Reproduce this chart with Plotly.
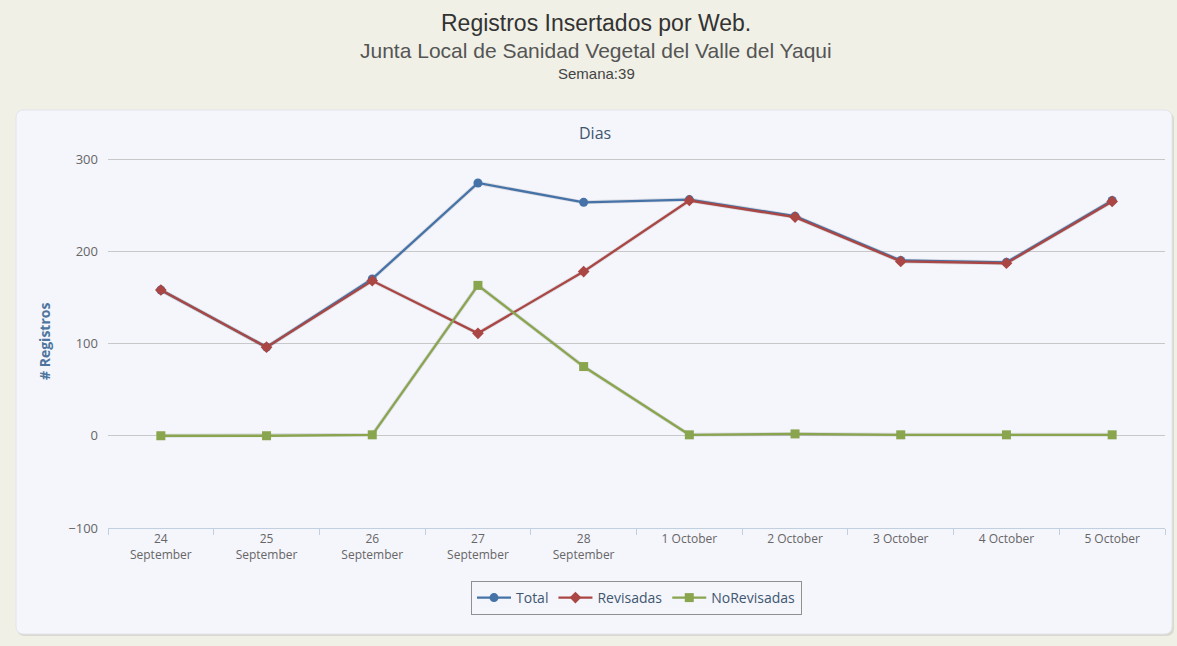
import plotly.graph_objects as go

categories = ["24<br>September", "25<br>September", "26<br>September", "27<br>September",
              "28<br>September", "1 October", "2 October", "3 October", "4 October", "5 October"]
total = [158, 96, 170, 274, 253, 256, 238, 190, 188, 255]
revisadas = [158, 96, 168, 111, 178, 255, 237, 189, 187, 254]
no_revisadas = [0, 0, 1, 163, 75, 1, 2, 1, 1, 1]

W, H = 1177, 646
L, R, T, B = 108, 12, 156, 118
PW, PH = W - L - R, H - T - B
Y_MIN, Y_MAX = -100, 300 + 3 / 0.9225


def px(x):
    return (x - L) / PW


def py(y):
    return (H - B - y) / PH


def rounded(x0, y0, x1, y1, r):
    a0, a1 = px(x0), px(x1)
    b0, b1 = py(y0), py(y1)  # b0 top, b1 bottom
    rx, ry = r / PW, r / PH
    return (f"M{a0+rx},{b0} L{a1-rx},{b0} Q{a1},{b0} {a1},{b0-ry} "
            f"L{a1},{b1+ry} Q{a1},{b1} {a1-rx},{b1} L{a0+rx},{b1} "
            f"Q{a0},{b1} {a0},{b1+ry} L{a0},{b0-ry} Q{a0},{b0} {a0+rx},{b0} Z")


fig = go.Figure()
series = [("Total", total, "#4572A7", "circle"),
          ("Revisadas", revisadas, "#AA4643", "diamond"),
          ("NoRevisadas", no_revisadas, "#89A54E", "square")]
for name, vals, col, sym in series:
    fig.add_trace(go.Scatter(
        x=categories, y=vals, mode="lines", showlegend=False, hoverinfo="skip",
        line=dict(color="rgba(0,0,0,0.10)", width=4),
    ))
for name, vals, col, sym in series:
    fig.add_trace(go.Scatter(
        x=categories, y=vals, name=name, mode="lines+markers",
        line=dict(color=col, width=2.3),
        marker=dict(color=col, symbol=sym, size=9),
    ))

shapes = [
    dict(type="path", xref="paper", yref="paper", path=rounded(17, 112, 1174, 636, 8),
         fillcolor="#d9d9d0", line=dict(width=0), layer="below"),
    dict(type="path", xref="paper", yref="paper", path=rounded(16, 110, 1172, 634, 8),
         fillcolor="#f5f5fc", line=dict(color="#e4e4ec", width=1), layer="below"),
]


def ann(text, x, y, size, color, family="Liberation Sans, Arial", angle=0):
    return dict(text=text, x=px(x), y=py(y), xref="paper", yref="paper",
                xanchor="center", yanchor="middle", showarrow=False, textangle=angle,
                font=dict(family=family, size=size, color=color))


annotations = [
    ann("Registros Insertados por Web.", 596, 23, 23, "#333333"),
    ann("Junta Local de Sanidad Vegetal del Valle del Yaqui", 596, 50, 21, "#555555"),
    ann("Semana:39", 596, 74, 15, "#444444"),
    ann("Dias", 595, 133, 16, "#3E576F", family="Open Sans"),
    ann("<b># Registros</b>", 44, 342, 14, "#4D759E", family="Open Sans", angle=-90),
]

fig.update_layout(
    width=W, height=H,
    margin=dict(l=L, r=R, t=T, b=B),
    paper_bgcolor="#f0f0e6",
    plot_bgcolor="rgba(0,0,0,0)",
    shapes=shapes,
    annotations=annotations,
    font=dict(family="Open Sans", color="#666666", size=12),
    xaxis=dict(
        type="category", range=[-0.5, 9.5], showgrid=False, zeroline=False,
        showline=True, linecolor="#C0D0E0", linewidth=1,
        ticks="outside", tickson="boundaries", ticklen=6, tickcolor="#C0D0E0",
        tickfont=dict(size=12, color="#666666"),
    ),
    yaxis=dict(
        range=[Y_MIN, Y_MAX], tickvals=[-100, 0, 100, 200, 300],
        ticktext=["−100", "0", "100", "200", "300"],
        showgrid=True, gridcolor="#C8C8C8", gridwidth=1, zeroline=False,
        showline=False, ticks="", ticklabelstandoff=9,
        tickfont=dict(size=13, color="#666666"),
    ),
    legend=dict(
        orientation="h", x=0.5, xanchor="center", y=py(581), yanchor="top",
        bordercolor="#909090", borderwidth=1, bgcolor="rgba(0,0,0,0)",
        font=dict(size=14, color="#3E576F"), itemwidth=34,
    ),
)

fig.write_html(
    "out.html",
    config={"displayModeBar": False},
    post_script="document.body.style.margin='0';document.body.style.background='#f0f0e6';",
)
